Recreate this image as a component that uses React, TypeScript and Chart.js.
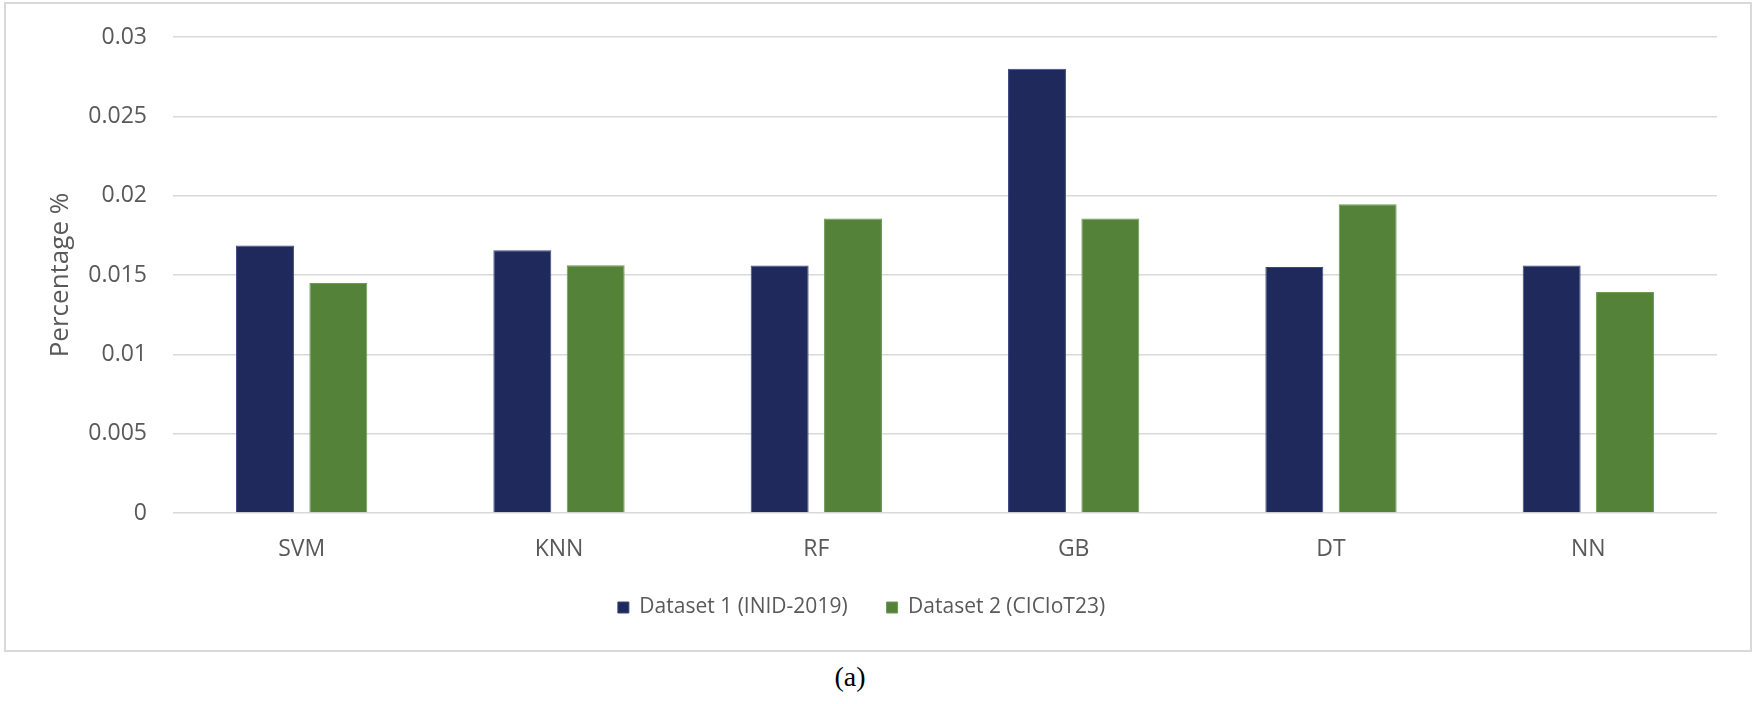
import React, { useEffect, useRef } from "react";
import { Chart, registerables } from "chart.js";

Chart.register(...registerables);

const categories = ["SVM", "KNN", "RF", "GB", "DT", "NN"];
const dataset1Label = "Dataset 1 (INID-2019)";
const dataset2Label = "Dataset 2 (CICIoT23)";
const dataset1Values = [0.01686, 0.01656, 0.0156, 0.028, 0.0155, 0.0156];
const dataset2Values = [0.0145, 0.01562, 0.01856, 0.01856, 0.01946, 0.01393];
const yTickValues = [0, 0.005, 0.01, 0.015, 0.02, 0.025, 0.03];
const yTickLabels = ["0", "0.005", "0.01", "0.015", "0.02", "0.025", "0.03"];
const yAxisTitle = "Percentage %";
const caption = "(a)";

const FONT = "'Open Sans', 'Noto Sans', sans-serif";
const TEXT = "#595959";

export default function App() {
  const canvasRef = useRef<HTMLCanvasElement | null>(null);

  useEffect(() => {
    document.body.style.margin = "0";
    const ctx = canvasRef.current!.getContext("2d")!;
    const chart = new Chart(ctx, {
      type: "bar",
      data: {
        labels: categories,
        datasets: [
          {
            label: dataset1Label,
            data: dataset1Values,
            backgroundColor: "#1f295b",
            borderColor: "#3a4785",
            borderWidth: 1,
            categoryPercentage: 0.57,
            barPercentage: 0.79,
          },
          {
            label: dataset2Label,
            data: dataset2Values,
            backgroundColor: "#548239",
            borderColor: "#6e9a55",
            borderWidth: 1,
            categoryPercentage: 0.57,
            barPercentage: 0.79,
          },
        ],
      },
      options: {
        animation: false,
        responsive: false,
        maintainAspectRatio: false,
        layout: { padding: { left: 0, right: 33, top: 33, bottom: 22 } },
        plugins: {
          tooltip: { enabled: false },
          legend: {
            position: "bottom",
            labels: {
              boxWidth: 11,
              boxHeight: 11,
              padding: 39,
              color: TEXT,
              font: { family: FONT, size: 21 },
            },
          },
        },
        scales: {
          x: {
            grid: { display: false, drawTicks: false },
            border: { display: false },
            ticks: {
              color: TEXT,
              font: { family: FONT, size: 23 },
              padding: 23,
            },
            afterFit: (scale: any) => {
              scale.height = 45;
            },
          },
          y: {
            min: 0,
            max: 0.03,
            grid: { color: "#d9d9d9", lineWidth: 1.5, drawTicks: false },
            border: { display: false },
            afterBuildTicks: (scale: any) => {
              scale.ticks = yTickValues.map((v) => ({ value: v }));
            },
            ticks: {
              color: TEXT,
              font: { family: FONT, size: 23 },
              padding: 26,
              callback: (value: any) => {
                const i = yTickValues.findIndex((v) => Math.abs(v - Number(value)) < 1e-9);
                return i >= 0 ? yTickLabels[i] : "";
              },
            },
            title: {
              display: true,
              text: yAxisTitle,
              color: TEXT,
              font: { family: FONT, size: 26 },
              padding: { top: 39, bottom: 0 },
            },
            afterFit: (scale: any) => {
              scale.width = 167;
              scale.paddingTop = 0;
              scale.paddingBottom = 0;
            },
          },
        },
      },
    });
    return () => chart.destroy();
  }, []);

  return (
    <div style={{ position: "relative", width: 1755, height: 704, background: "#fff" }}>
      <div
        style={{
          position: "absolute",
          left: 4,
          top: 2,
          width: 1748,
          height: 650,
          border: "2px solid #d9d9d9",
          boxSizing: "border-box",
        }}
      >
        <canvas ref={canvasRef} width={1744} height={646} style={{ display: "block" }} />
      </div>
      <div
        style={{
          position: "absolute",
          left: 0,
          width: 1700,
          top: 660,
          textAlign: "center",
          fontFamily: "'Liberation Serif', 'DejaVu Serif', serif",
          fontSize: 28,
          lineHeight: "34px",
          color: "#000",
        }}
      >
        {caption}
      </div>
    </div>
  );
}
